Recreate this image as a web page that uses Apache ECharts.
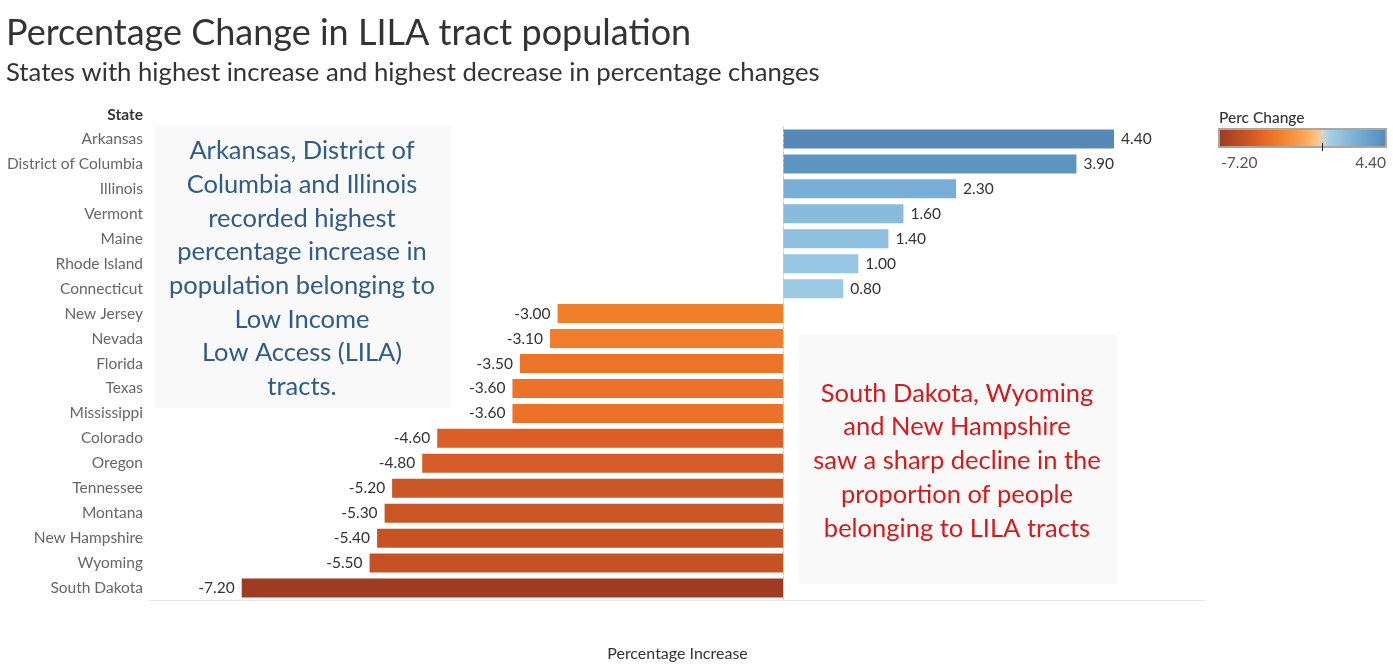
<!DOCTYPE html>
<html>
<head>
<meta charset="utf-8">
<script src="https://cdn.jsdelivr.net/npm/echarts@6/dist/echarts.min.js"></script>
<style>html,body{margin:0;padding:0;background:#fff;}#c{width:1393px;height:671px;}</style>
</head>
<body>
<div id="c"></div>
<script>
// ---- data ----
const states = ["Arkansas","District of Columbia","Illinois","Vermont","Maine","Rhode Island","Connecticut","New Jersey","Nevada","Florida","Texas","Mississippi","Colorado","Oregon","Tennessee","Montana","New Hampshire","Wyoming","South Dakota"];
const percChange = [4.40,3.90,2.30,1.60,1.40,1.00,0.80,-3.00,-3.10,-3.50,-3.60,-3.60,-4.60,-4.80,-5.20,-5.30,-5.40,-5.50,-7.20];
const colorMin = -7.20;
const colorMax = 4.40;

// ---- style: diverging colour ramp ----
const FONT = "Lato";
const anchors = [[-7.2,'#9e3b23'],[-5.5,'#c55225'],[-4.6,'#d95f26'],[-3.6,'#eb7228'],[-3.0,'#f07f2b'],[-1.5,'#f9a04f'],[-0.5,'#fdc27c'],[0,'#ddd3c5'],[0.4,'#a8d0e4'],[0.8,'#9ccae5'],[1.4,'#8ebfdf'],[2.3,'#79afd6'],[3.9,'#5d94c1'],[4.4,'#5688b8']];
function hex2rgb(h){return [parseInt(h.substr(1,2),16),parseInt(h.substr(3,2),16),parseInt(h.substr(5,2),16)];}
function colorAt(v){
  for(let i=0;i<anchors.length-1;i++){
    const a=anchors[i],b=anchors[i+1];
    if(v<=b[0]+1e-9){
      const t=(v-a[0])/(b[0]-a[0]);
      const ca=hex2rgb(a[1]),cb=hex2rgb(b[1]);
      return 'rgb('+ca.map((c,k)=>Math.round(c+(cb[k]-c)*t)).join(',')+')';
    }
  }
  return anchors[anchors.length-1][1];
}
const ramp=[];
const steps=58;
for(let i=0;i<=steps;i++){ramp.push(colorAt(colorMin+(colorMax-colorMin)*i/steps));}

const chart = echarts.init(document.getElementById('c'));
chart.setOption({
  backgroundColor:'#ffffff',
  animation:false,
  textStyle:{fontFamily:FONT},
  grid:{left:150,right:188,top:126.5,bottom:70.5,containLabel:false},
  xAxis:{type:'value',min:-8.42,max:5.61,
    axisLabel:{show:false},axisTick:{show:false},splitLine:{show:false},
    axisLine:{show:true,lineStyle:{color:'#e6e6e6',width:1}},
    name:'Percentage Increase',nameLocation:'middle',nameGap:45,
    nameTextStyle:{fontFamily:FONT,fontSize:16,color:'#333'}},
  yAxis:{type:'category',data:states,inverse:true,
    axisTick:{show:false},
    axisLine:{show:true,lineStyle:{color:'#eeeeee',width:1}},
    axisLabel:{fontFamily:FONT,fontSize:15.5,color:'#666',margin:7}},
  visualMap:{type:'continuous',min:colorMin,max:colorMax,orient:'horizontal',dimension:0,
    left:1219,top:129,itemWidth:18,itemHeight:167,calculable:false,hoverLink:false,
    text:null,showLabel:false,padding:0,seriesIndex:0,
    inRange:{color:ramp}},
  graphic:[
    {type:'text',left:6,top:15,style:{text:'Percentage Change in LILA tract population',fontFamily:FONT,fontSize:36,fill:'#333'}},
    {type:'text',left:6,top:60,style:{text:'States with highest increase and highest decrease in percentage changes',fontFamily:FONT,fontSize:25.7,fill:'#333'}},
    {type:'text',right:1393-143,top:107,style:{text:'State',fontFamily:FONT,fontSize:15.5,fontWeight:'bold',fill:'#333',align:'right'}},
    {type:'rect',shape:{x:154,y:125,width:297,height:283},style:{fill:'#f9f9f9'},z:-1},
    {type:'rect',shape:{x:799,y:335,width:318,height:249},style:{fill:'#f9f9f9'},z:-1},
    {type:'text',x:302,y:269,style:{text:'Arkansas, District of\nColumbia and Illinois\nrecorded highest\npercentage increase in\npopulation belonging to\nLow Income\nLow Access (LILA)\ntracts.',fontFamily:FONT,fontSize:25.5,lineHeight:33.7,fill:'#2e5b87',align:'center',verticalAlign:'middle'},z:5},
    {type:'text',x:957,y:461,style:{text:'South Dakota, Wyoming\nand New Hampshire\nsaw a sharp decline in the\nproportion of people\nbelonging to LILA tracts',fontFamily:FONT,fontSize:25.5,lineHeight:33.75,fill:'#d7191c',align:'center',verticalAlign:'middle'},z:5},
    {type:'text',left:1219,top:110,style:{text:'Perc Change',fontFamily:FONT,fontSize:15.5,fontWeight:500,fill:'#333'}},
    {type:'rect',shape:{x:1219,y:129,width:167,height:18},style:{fill:'none',stroke:'#aba799',lineWidth:2},z:10},
    {type:'line',shape:{x1:1322.5,y1:143,x2:1322.5,y2:151},style:{stroke:'#222',lineWidth:1},z:11},
    {type:'text',left:1221,top:155,style:{text:'-7.20',fontFamily:FONT,fontSize:15.5,fill:'#555'}},
    {type:'text',right:1393-1386,top:155,style:{text:'4.40',fontFamily:FONT,fontSize:15.5,fill:'#555',align:'right'}}
  ],
  series:[{type:'bar',barWidth:19,
    data:percChange.map(v=>({value:v,label:{position:v<0?'left':'right'}})),
    label:{show:true,distance:7,fontFamily:FONT,fontSize:15.5,color:'#333',formatter:p=>p.value.toFixed(2)},
    markLine:{silent:true,symbol:'none',label:{show:false},
      lineStyle:{color:'#c8c8c8',type:[3,2],width:1},
      data:[{xAxis:0}]}
  }]
});
</script>
</body>
</html>
